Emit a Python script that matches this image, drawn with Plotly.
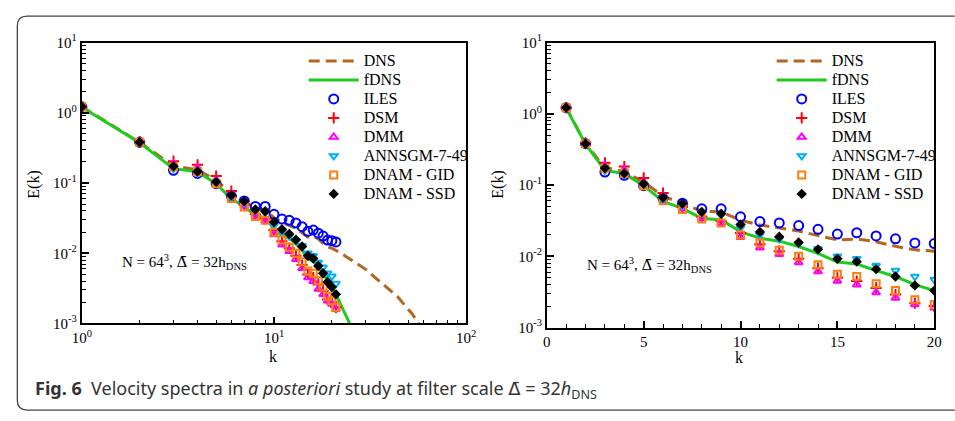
import plotly.graph_objects as go

# ---------------- data ----------------
k_mod = list(range(1, 22))

E_ILES = [1.22, 0.38, 0.152, 0.137, 0.098, 0.065, 0.0555, 0.0463, 0.0463, 0.0358, 0.0307,
          0.0294, 0.027, 0.0239, 0.0205, 0.0214, 0.0193, 0.0176, 0.0154, 0.0151, 0.0145]
E_DSM = [1.22, 0.39, 0.205, 0.182, 0.126, 0.077, 0.049, 0.036, 0.031, 0.0212, 0.0148,
         0.0118, 0.0092, 0.0068, 0.0050, 0.0045, 0.0036, 0.0029, 0.0022, 0.0020, 0.0017]
E_DMM = [1.22, 0.38, 0.188, 0.164, 0.11, 0.07, 0.047, 0.034, 0.029, 0.0185, 0.0132,
         0.0107, 0.0082, 0.0061, 0.0045, 0.0040, 0.0031, 0.0026, 0.0021, 0.0019, 0.0016]
E_ANN = [1.22, 0.38, 0.16, 0.14, 0.10, 0.062, 0.052, 0.0405, 0.038, 0.025, 0.020,
         0.0175, 0.015, 0.0128, 0.0100, 0.0092, 0.0074, 0.0063, 0.0052, 0.0047, 0.0037]
E_GID = [1.22, 0.38, 0.17, 0.145, 0.098, 0.060, 0.0454, 0.0333, 0.0294, 0.0199, 0.0154,
         0.0122, 0.0100, 0.0076, 0.0056, 0.0052, 0.0041, 0.0033, 0.00245, 0.0021, 0.0017]
E_SSD = [1.22, 0.38, 0.173, 0.146, 0.104, 0.067, 0.055, 0.042, 0.0396, 0.0279, 0.022,
         0.0188, 0.0156, 0.0125, 0.0092, 0.0084, 0.0066, 0.0052, 0.0039, 0.0033, 0.0026]

k_dns = list(range(1, 22)) + [22, 24, 26, 28, 30, 33, 36, 40, 44, 48, 52, 56, 60, 64]
E_DNS = [1.22, 0.38, 0.175, 0.155, 0.11, 0.07, 0.055, 0.043, 0.042, 0.032, 0.0275,
         0.025, 0.0226, 0.0195, 0.017, 0.0175, 0.016, 0.0138, 0.0123, 0.0118, 0.011,
         0.0102, 0.0088, 0.0076, 0.0067, 0.0059, 0.0047, 0.0038, 0.0030, 0.0024,
         0.0018, 0.0014, 0.00105, 0.00078, 0.00056]

k_fdns = list(range(1, 31))
E_fDNS = [1.2, 0.375, 0.16, 0.145, 0.098, 0.059, 0.047, 0.034, 0.0325, 0.022, 0.018,
          0.0163, 0.0137, 0.011, 0.0083, 0.0078, 0.0063, 0.0052, 0.0040, 0.0033, 0.0026,
          0.0020, 0.0016, 0.00125, 0.00098, 0.00075, 0.00056, 0.00041, 0.0003, 0.00021]

legend_names = ["DNS", "fDNS", "ILES", "DSM", "DMM", "ANNSGM-7-49", "DNAM - GID", "DNAM - SSD"]
ytick_vals = [1e-3, 1e-2, 1e-1, 1, 10]
ytick_text = ["10<sup>-3</sup>", "10<sup>-2</sup>", "10<sup>-1</sup>", "10<sup>0</sup>", "10<sup>1</sup>"]
xlog_vals = [1, 10, 100]
xlog_text = ["10<sup>0</sup>", "10<sup>1</sup>", "10<sup>2</sup>"]
xlin_vals = [0, 5, 10, 15, 20]

W, H = 955, 421
SERIF = "Liberation Serif"

fig = go.Figure()

def lname(s):
    return f'<span style="font-size:16px">{s}</span>'

def add_panel(xa, ya, leg):
    common = dict(xaxis=xa, yaxis=ya, legend=leg, showlegend=True)
    fig.add_trace(go.Scatter(x=k_dns, y=E_DNS, mode="lines", name=lname(legend_names[0]),
                             line=dict(color="#b5651d", width=3, dash="11px,6px"), **common))
    fig.add_trace(go.Scatter(x=k_fdns, y=E_fDNS, mode="lines", name=lname(legend_names[1]),
                             line=dict(color="#1ecb1e", width=3), **common))
    fig.add_trace(go.Scatter(x=k_mod, y=E_ILES, mode="markers", name=lname(legend_names[2]),
                             marker=dict(symbol="circle-open", size=9, color="#0000ff",
                                         line=dict(width=2, color="#0000ff")), **common))
    fig.add_trace(go.Scatter(x=k_mod, y=E_DSM, mode="markers", name=lname(legend_names[3]),
                             marker=dict(symbol="cross-thin", size=8,
                                         line=dict(width=2, color="#ff0000")), **common))
    fig.add_trace(go.Scatter(x=k_mod, y=E_DMM, mode="markers", name=lname(legend_names[4]),
                             marker=dict(symbol="triangle-up-open", size=7, color="#ff00ff",
                                         line=dict(width=2, color="#ff00ff")), **common))
    fig.add_trace(go.Scatter(x=k_mod, y=E_ANN, mode="markers", name=lname(legend_names[5]),
                             marker=dict(symbol="triangle-down-open", size=7, color="#00b0f0",
                                         line=dict(width=2, color="#00b0f0")), **common))
    fig.add_trace(go.Scatter(x=k_mod, y=E_GID, mode="markers", name=lname(legend_names[6]),
                             marker=dict(symbol="square-open", size=7, color="#ff7f0e",
                                         line=dict(width=2, color="#ff7f0e")), **common))
    fig.add_trace(go.Scatter(x=k_mod, y=E_SSD, mode="markers", name=lname(legend_names[7]),
                             marker=dict(symbol="diamond", size=8, color="#000000"), **common))

add_panel("x", "y", "legend")
add_panel("x2", "y2", "legend2")

def px_x(p):
    return p / W

def px_y(p):
    return 1 - p / H

axis_font = dict(family=SERIF, size=15, color="black")
ax_common = dict(showgrid=False, zeroline=False, showline=True, linecolor="black", linewidth=1.8,
                 mirror=True, ticks="inside", ticklen=7, tickwidth=1.5, tickcolor="black",
                 tickfont=axis_font)

minor_log_y = [m * 10 ** e for e in range(-3, 1) for m in range(2, 10)]
minor_log_x = [m * 10 ** e for e in range(0, 2) for m in range(2, 10)]
minor_style = dict(ticks="inside", ticklen=4, tickwidth=1.2, tickcolor="black", showgrid=False)

leg_common = dict(xanchor="left", yanchor="top", bgcolor="rgba(0,0,0,0)",
                  font=dict(family=SERIF, size=12, color="black"),
                  itemwidth=50, tracegroupgap=0)

fig.update_layout(
    width=W, height=H,
    margin=dict(l=0, r=0, t=0, b=0),
    paper_bgcolor="white", plot_bgcolor="white",
    xaxis=dict(type="log", range=[0, 2], domain=[px_x(73.3), px_x(466)], anchor="y",
               tickmode="array", tickvals=xlog_vals, ticktext=xlog_text,
               minor=dict(tickmode="array", tickvals=minor_log_x, **minor_style), **ax_common),
    yaxis=dict(type="log", range=[-3, 1], domain=[px_y(327.5), px_y(34)], anchor="x",
               tickmode="array", tickvals=ytick_vals, ticktext=ytick_text,
               minor=dict(tickmode="array", tickvals=minor_log_y, **minor_style), **ax_common),
    xaxis2=dict(type="linear", range=[0, 20], domain=[px_x(548.3), px_x(944)], anchor="y2",
                tickmode="array", tickvals=xlin_vals,
                minor=dict(dtick=1, **minor_style), **ax_common),
    yaxis2=dict(type="log", range=[-3, 1], domain=[px_y(331.7), px_y(34)], anchor="x2",
                tickmode="array", tickvals=ytick_vals, ticktext=ytick_text,
                minor=dict(tickmode="array", tickvals=minor_log_y, **minor_style), **ax_common),
    legend=dict(x=px_x(300), y=px_y(38), **leg_common),
    legend2=dict(x=px_x(778), y=px_y(38), **leg_common),
)

ann_font = dict(family=SERIF, size=15, color="black")
DBAR = "<span style=\"font-family:'DejaVu Serif'\">\u0394\u0304</span>"
label_text = f"N = 64<sup>3</sup>, {DBAR} = 32h<sub>DNS</sub>"
DBAR_S = "<span style=\"font-family:'DejaVu Sans'\">\u0394\u0304</span>"
caption = ("<b>Fig. 6</b>\u00a0\u00a0Velocity spectra in <i>a posteriori</i> study at filter scale "
           f"{DBAR_S} = 32<i>h</i><sub>DNS</sub>")
title_font = dict(family=SERIF, size=16, color="black")
annotations = [
    dict(text=label_text, x=px_x(112), y=px_y(263), xref="paper", yref="paper",
         xanchor="left", yanchor="middle", showarrow=False, font=ann_font),
    dict(text=label_text, x=px_x(587), y=px_y(266), xref="paper", yref="paper",
         xanchor="left", yanchor="middle", showarrow=False, font=ann_font),
    dict(text="E(k)", x=px_x(25), y=px_y(182), xref="paper", yref="paper", textangle=-90,
         xanchor="center", yanchor="middle", showarrow=False, font=title_font),
    dict(text="E(k)", x=px_x(499), y=px_y(183), xref="paper", yref="paper", textangle=-90,
         xanchor="center", yanchor="middle", showarrow=False, font=title_font),
    dict(text="k", x=px_x(269), y=px_y(362), xref="paper", yref="paper",
         xanchor="center", yanchor="middle", showarrow=False, font=title_font),
    dict(text="k", x=px_x(745), y=px_y(363), xref="paper", yref="paper",
         xanchor="center", yanchor="middle", showarrow=False, font=title_font),
    dict(text=caption, x=px_x(23), y=px_y(396), xref="paper", yref="paper",
         xanchor="left", yanchor="middle", showarrow=False,
         font=dict(family="Noto Sans", size=18, color="#333333")),
]
fig.update_layout(annotations=annotations)

# outer rounded frame (figure decoration)
x0, x1, y0, y1, r = 7.5, 965, 6.5, 418, 10
def P(x, y):
    return f"{x / W:.5f},{1 - y / H:.5f}"
path = (f"M {P(x1, y0)} L {P(x0 + r, y0)} Q {P(x0, y0)} {P(x0, y0 + r)} "
        f"L {P(x0, y1 - r)} Q {P(x0, y1)} {P(x0 + r, y1)} L {P(x1, y1)}")
fig.add_shape(type="path", path=path, xref="paper", yref="paper",
              line=dict(color="#444444", width=1.3))

fig.write_html("out.html")
